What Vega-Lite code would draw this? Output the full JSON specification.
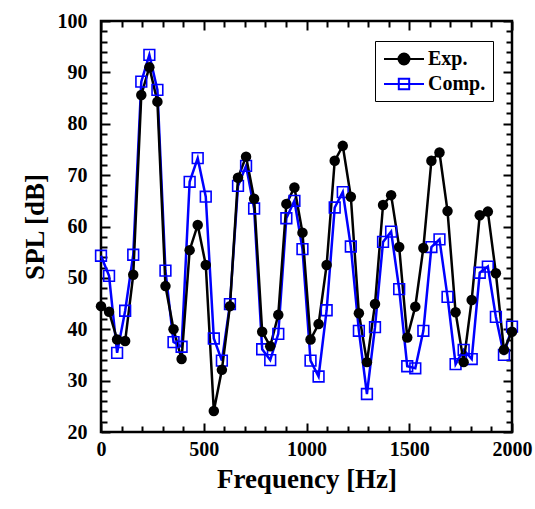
{
  "$schema": "https://vega.github.io/schema/vega-lite/v6.json",
  "width": 411,
  "height": 411,
  "autosize": "none",
  "padding": {"left": 101, "top": 21, "right": 23, "bottom": 77},
  "config": {
    "font": "Liberation Serif",
    "view": {"stroke": "black", "strokeWidth": 2.5},
    "axis": {"domain": false, "grid": false, "tickColor": "black", "tickWidth": 2, "labelFlush": false, "labelOverlap": false, "labelFont": "Liberation Serif", "labelFontWeight": "bold", "labelFontSize": 20, "labelColor": "black", "titleFont": "Liberation Serif", "titleFontWeight": "bold", "titleFontSize": 27, "titleColor": "black", "format": "d"}
  },
  "data": {"values": [
    {"f": 0, "spl": 54.3, "s": "Comp."}, {"f": 39.2, "spl": 50.4, "s": "Comp."}, {"f": 78.4, "spl": 35.4, "s": "Comp."}, {"f": 117.6, "spl": 43.6, "s": "Comp."},
    {"f": 156.9, "spl": 54.5, "s": "Comp."}, {"f": 196.1, "spl": 88.2, "s": "Comp."}, {"f": 235.3, "spl": 93.4, "s": "Comp."}, {"f": 274.5, "spl": 86.6, "s": "Comp."},
    {"f": 313.7, "spl": 51.4, "s": "Comp."}, {"f": 352.9, "spl": 37.5, "s": "Comp."}, {"f": 392.2, "spl": 36.6, "s": "Comp."}, {"f": 431.4, "spl": 68.7, "s": "Comp."},
    {"f": 470.6, "spl": 73.3, "s": "Comp."}, {"f": 509.8, "spl": 65.8, "s": "Comp."}, {"f": 549.0, "spl": 38.2, "s": "Comp."}, {"f": 588.2, "spl": 33.9, "s": "Comp."},
    {"f": 627.5, "spl": 44.9, "s": "Comp."}, {"f": 666.7, "spl": 67.9, "s": "Comp."}, {"f": 705.9, "spl": 71.8, "s": "Comp."}, {"f": 745.1, "spl": 63.5, "s": "Comp."},
    {"f": 784.3, "spl": 36.1, "s": "Comp."}, {"f": 823.5, "spl": 34.0, "s": "Comp."}, {"f": 862.7, "spl": 39.1, "s": "Comp."}, {"f": 902.0, "spl": 61.6, "s": "Comp."},
    {"f": 941.2, "spl": 65.0, "s": "Comp."}, {"f": 980.4, "spl": 55.6, "s": "Comp."}, {"f": 1019.6, "spl": 33.9, "s": "Comp."}, {"f": 1058.8, "spl": 30.8, "s": "Comp."},
    {"f": 1098.0, "spl": 43.7, "s": "Comp."}, {"f": 1137.3, "spl": 63.7, "s": "Comp."}, {"f": 1176.5, "spl": 66.7, "s": "Comp."}, {"f": 1215.7, "spl": 56.1, "s": "Comp."},
    {"f": 1254.9, "spl": 39.7, "s": "Comp."}, {"f": 1294.1, "spl": 27.4, "s": "Comp."}, {"f": 1333.3, "spl": 40.4, "s": "Comp."}, {"f": 1372.5, "spl": 57.0, "s": "Comp."},
    {"f": 1411.8, "spl": 59.0, "s": "Comp."}, {"f": 1451.0, "spl": 47.8, "s": "Comp."}, {"f": 1490.2, "spl": 32.8, "s": "Comp."}, {"f": 1529.4, "spl": 32.4, "s": "Comp."},
    {"f": 1568.6, "spl": 39.7, "s": "Comp."}, {"f": 1607.8, "spl": 56.0, "s": "Comp."}, {"f": 1647.1, "spl": 57.5, "s": "Comp."}, {"f": 1686.3, "spl": 46.3, "s": "Comp."},
    {"f": 1725.5, "spl": 33.2, "s": "Comp."}, {"f": 1764.7, "spl": 36.0, "s": "Comp."}, {"f": 1803.9, "spl": 34.2, "s": "Comp."}, {"f": 1843.1, "spl": 51.0, "s": "Comp."},
    {"f": 1882.4, "spl": 52.2, "s": "Comp."}, {"f": 1921.6, "spl": 42.4, "s": "Comp."}, {"f": 1960.8, "spl": 35.0, "s": "Comp."}, {"f": 2000, "spl": 40.5, "s": "Comp."},
    {"f": 0, "spl": 44.5, "s": "Exp."}, {"f": 39.2, "spl": 43.4, "s": "Exp."}, {"f": 78.4, "spl": 38.0, "s": "Exp."}, {"f": 117.6, "spl": 37.7, "s": "Exp."},
    {"f": 156.9, "spl": 50.6, "s": "Exp."}, {"f": 196.1, "spl": 85.6, "s": "Exp."}, {"f": 235.3, "spl": 91.0, "s": "Exp."}, {"f": 274.5, "spl": 84.3, "s": "Exp."},
    {"f": 313.7, "spl": 48.4, "s": "Exp."}, {"f": 352.9, "spl": 40.0, "s": "Exp."}, {"f": 392.2, "spl": 34.2, "s": "Exp."}, {"f": 431.4, "spl": 55.4, "s": "Exp."},
    {"f": 470.6, "spl": 60.3, "s": "Exp."}, {"f": 509.8, "spl": 52.5, "s": "Exp."}, {"f": 549.0, "spl": 24.1, "s": "Exp."}, {"f": 588.2, "spl": 32.1, "s": "Exp."},
    {"f": 627.5, "spl": 44.5, "s": "Exp."}, {"f": 666.7, "spl": 69.5, "s": "Exp."}, {"f": 705.9, "spl": 73.6, "s": "Exp."}, {"f": 745.1, "spl": 65.4, "s": "Exp."},
    {"f": 784.3, "spl": 39.5, "s": "Exp."}, {"f": 823.5, "spl": 36.7, "s": "Exp."}, {"f": 862.7, "spl": 42.8, "s": "Exp."}, {"f": 902.0, "spl": 64.4, "s": "Exp."},
    {"f": 941.2, "spl": 67.6, "s": "Exp."}, {"f": 980.4, "spl": 58.8, "s": "Exp."}, {"f": 1019.6, "spl": 38.0, "s": "Exp."}, {"f": 1058.8, "spl": 41.0, "s": "Exp."},
    {"f": 1098.0, "spl": 52.5, "s": "Exp."}, {"f": 1137.3, "spl": 72.8, "s": "Exp."}, {"f": 1176.5, "spl": 75.7, "s": "Exp."}, {"f": 1215.7, "spl": 65.8, "s": "Exp."},
    {"f": 1254.9, "spl": 43.1, "s": "Exp."}, {"f": 1294.1, "spl": 33.6, "s": "Exp."}, {"f": 1333.3, "spl": 44.9, "s": "Exp."}, {"f": 1372.5, "spl": 64.2, "s": "Exp."},
    {"f": 1411.8, "spl": 66.1, "s": "Exp."}, {"f": 1451.0, "spl": 56.0, "s": "Exp."}, {"f": 1490.2, "spl": 38.4, "s": "Exp."}, {"f": 1529.4, "spl": 44.4, "s": "Exp."},
    {"f": 1568.6, "spl": 55.8, "s": "Exp."}, {"f": 1607.8, "spl": 72.8, "s": "Exp."}, {"f": 1647.1, "spl": 74.4, "s": "Exp."}, {"f": 1686.3, "spl": 63.0, "s": "Exp."},
    {"f": 1725.5, "spl": 43.3, "s": "Exp."}, {"f": 1764.7, "spl": 33.6, "s": "Exp."}, {"f": 1803.9, "spl": 45.7, "s": "Exp."}, {"f": 1843.1, "spl": 62.2, "s": "Exp."},
    {"f": 1882.4, "spl": 62.9, "s": "Exp."}, {"f": 1921.6, "spl": 50.9, "s": "Exp."}, {"f": 1960.8, "spl": 36.0, "s": "Exp."}, {"f": 2000, "spl": 39.5, "s": "Exp."}
  ]},
  "resolve": {"axis": {"x": "independent", "y": "independent"}},
  "layer": [
    {
      "mark": {"type": "line", "strokeWidth": 2.5},
      "encoding": {
        "x": {"field": "f", "type": "quantitative", "scale": {"domain": [0, 2000], "nice": false},
              "axis": {"orient": "bottom", "values": [0, 500, 1000, 1500, 2000], "tickSize": -9, "labelPadding": 16, "title": "Frequency [Hz]", "titlePadding": 7}},
        "y": {"field": "spl", "type": "quantitative", "scale": {"domain": [20, 100], "nice": false, "zero": false},
              "axis": {"orient": "left", "values": [20, 30, 40, 50, 60, 70, 80, 90, 100], "tickSize": -9, "labelPadding": 23, "title": "SPL [dB]", "titlePadding": 8}},
        "color": {"field": "s", "type": "nominal",
                  "scale": {"domain": ["Exp.", "Comp."], "range": ["black", "#0000ff"]},
                  "legend": {
                    "orient": "none", "legendX": 274, "legendY": 20, "title": null,
                    "labelFont": "Liberation Serif", "labelFontWeight": "bold", "labelFontSize": 20, "labelColor": "black",
                    "symbolSize": 400, "symbolOffset": 11, "labelOffset": 13, "rowPadding": 4, "padding": 7,
                    "strokeColor": "black", "fillColor": "white",
                    "encode": {"symbols": {"update": {
                      "shape": {"signal": "datum.value === 'Exp.' ? 'M-2,0H2M-0.55,0A0.55,0.55 0 1,1 0.55,0A0.55,0.55 0 1,1 -0.55,0Z' : 'M-2,0H2M-0.52,-0.52H0.52V0.52H-0.52Z'"},
                      "fill": {"signal": "datum.value === 'Exp.' ? 'black' : 'transparent'"},
                      "stroke": {"signal": "datum.value === 'Exp.' ? 'black' : '#0000ff'"},
                      "strokeWidth": {"value": 2},
                      "opacity": {"value": 1}
                    }}}
                  }}
      }
    },
    {
      "transform": [{"filter": {"field": "s", "equal": "Comp."}}],
      "mark": {"type": "point", "shape": "square", "size": 115, "filled": false, "color": "#0000ff", "strokeWidth": 1.6, "opacity": 1},
      "encoding": {
        "x": {"field": "f", "type": "quantitative", "scale": {"domain": [0, 2000], "nice": false},
              "axis": {"orient": "top", "values": [0, 500, 1000, 1500, 2000], "tickSize": -9, "labels": false, "title": null}},
        "y": {"field": "spl", "type": "quantitative", "scale": {"domain": [20, 100], "nice": false, "zero": false},
              "axis": {"orient": "right", "values": [20, 30, 40, 50, 60, 70, 80, 90, 100], "tickSize": -9, "labels": false, "title": null}}
      }
    },
    {
      "transform": [{"filter": {"field": "s", "equal": "Exp."}}],
      "mark": {"type": "circle", "size": 110, "color": "black", "opacity": 1},
      "encoding": {
        "x": {"field": "f", "type": "quantitative", "scale": {"domain": [0, 2000], "nice": false}, "axis": null},
        "y": {"field": "spl", "type": "quantitative", "scale": {"domain": [20, 100], "nice": false, "zero": false}, "axis": null}
      }
    },
    {
      "mark": {"type": "point", "opacity": 0},
      "encoding": {
        "x": {"field": "f", "type": "quantitative", "scale": {"domain": [0, 2000], "nice": false},
              "axis": {"orient": "bottom", "values": [100, 200, 300, 400, 600, 700, 800, 900, 1100, 1200, 1300, 1400, 1600, 1700, 1800, 1900], "tickSize": -6, "labels": false, "title": null}},
        "y": {"field": "spl", "type": "quantitative", "scale": {"domain": [20, 100], "nice": false, "zero": false},
              "axis": {"orient": "left", "values": [22, 24, 26, 28, 32, 34, 36, 38, 42, 44, 46, 48, 52, 54, 56, 58, 62, 64, 66, 68, 72, 74, 76, 78, 82, 84, 86, 88, 92, 94, 96, 98], "tickSize": -6, "labels": false, "title": null}}
      }
    },
    {
      "mark": {"type": "point", "opacity": 0},
      "encoding": {
        "x": {"field": "f", "type": "quantitative", "scale": {"domain": [0, 2000], "nice": false},
              "axis": {"orient": "top", "values": [100, 200, 300, 400, 600, 700, 800, 900, 1100, 1200, 1300, 1400, 1600, 1700, 1800, 1900], "tickSize": -6, "labels": false, "title": null}},
        "y": {"field": "spl", "type": "quantitative", "scale": {"domain": [20, 100], "nice": false, "zero": false},
              "axis": {"orient": "right", "values": [22, 24, 26, 28, 32, 34, 36, 38, 42, 44, 46, 48, 52, 54, 56, 58, 62, 64, 66, 68, 72, 74, 76, 78, 82, 84, 86, 88, 92, 94, 96, 98], "tickSize": -6, "labels": false, "title": null}}
      }
    }
  ]
}
